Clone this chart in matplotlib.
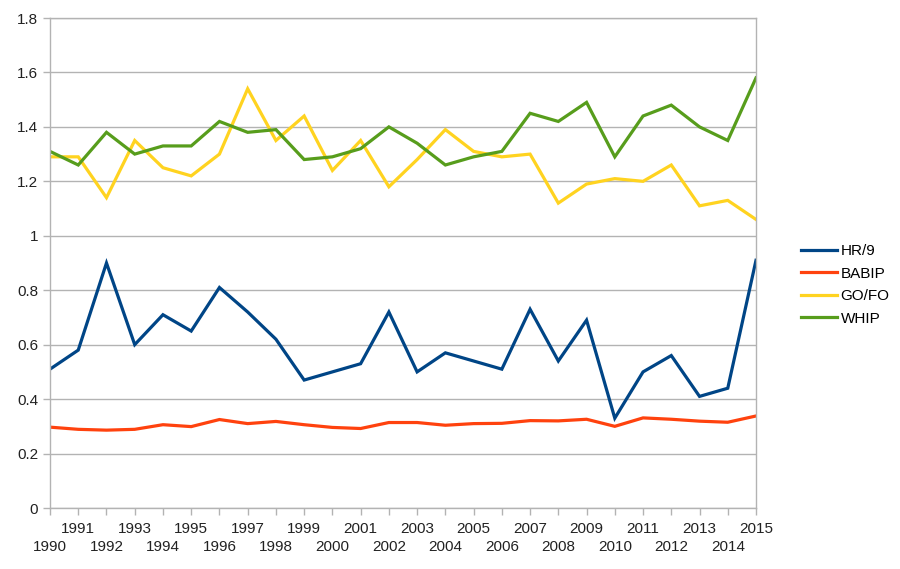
import matplotlib.pyplot as plt
import numpy as np

plt.rcParams['font.family'] = ['Liberation Sans', 'DejaVu Sans']

years = list(range(1990, 2016))

hr9 = [0.51, 0.58, 0.90, 0.60, 0.71, 0.65, 0.81, 0.72, 0.62, 0.47,
       0.50, 0.53, 0.72, 0.50, 0.57, 0.54, 0.51, 0.73, 0.54, 0.69,
       0.33, 0.50, 0.56, 0.41, 0.44, 0.91]
babip = [0.297, 0.289, 0.286, 0.289, 0.306, 0.299, 0.325, 0.310, 0.318, 0.306,
         0.296, 0.292, 0.314, 0.314, 0.304, 0.310, 0.311, 0.321, 0.320, 0.326,
         0.300, 0.331, 0.326, 0.319, 0.315, 0.338]
gofo = [1.29, 1.29, 1.14, 1.35, 1.25, 1.22, 1.30, 1.54, 1.35, 1.44,
        1.24, 1.35, 1.18, 1.28, 1.39, 1.31, 1.29, 1.30, 1.12, 1.19,
        1.21, 1.20, 1.26, 1.11, 1.13, 1.06]
whip = [1.31, 1.26, 1.38, 1.30, 1.33, 1.33, 1.42, 1.38, 1.39, 1.28,
        1.29, 1.32, 1.40, 1.34, 1.26, 1.29, 1.31, 1.45, 1.42, 1.49,
        1.29, 1.44, 1.48, 1.40, 1.35, 1.58]

series = [("HR/9", hr9, "#004586"),
          ("BABIP", babip, "#ff420e"),
          ("GO/FO", gofo, "#ffd320"),
          ("WHIP", whip, "#579d1c")]

fig = plt.figure(figsize=(9, 5.69), dpi=100)
ax = fig.add_axes([50/900, 1-508/569, 706/900, 490/569])

x = np.arange(len(years))
for name, vals, col in series:
    ax.plot(x, vals, color=col, lw=2.3, label=name, solid_joinstyle='miter')

ax.set_xlim(0, len(years) - 1)
ax.set_ylim(0, 1.8)
ax.set_yticks(np.arange(0, 1.81, 0.2))
ax.set_yticklabels(["0", "0.2", "0.4", "0.6", "0.8", "1", "1.2", "1.4", "1.6", "1.8"])

# odd years on the top row (major), even years on the bottom row (minor)
odd = [i for i, y in enumerate(years) if y % 2]
even = [i for i, y in enumerate(years) if y % 2 == 0]
ax.set_xticks(odd)
ax.set_xticklabels([str(years[i]) for i in odd])
ax.set_xticks(even, minor=True)
ax.set_xticklabels([str(years[i]) for i in even], minor=True)

ax.grid(axis='y', color='#b3b3b3', lw=1)
ax.set_axisbelow(True)
for s in ax.spines.values():
    s.set_color('#b3b3b3')
    s.set_linewidth(1)
ax.tick_params(colors='#b3b3b3', labelcolor='#222222', labelsize=11, length=5, width=1)
ax.tick_params(axis='x', which='major', pad=5)
ax.tick_params(axis='x', which='minor', colors='#b3b3b3', labelcolor='#222222',
               labelsize=11, length=5, width=1, pad=18)

ax.legend(loc='center left', bbox_to_anchor=(787/900, 1-285/569), bbox_transform=fig.transFigure,
          frameon=False, fontsize=11, handlelength=2.4, handletextpad=0.2, labelspacing=0.55)

fig.savefig("out.png", dpi=100)
